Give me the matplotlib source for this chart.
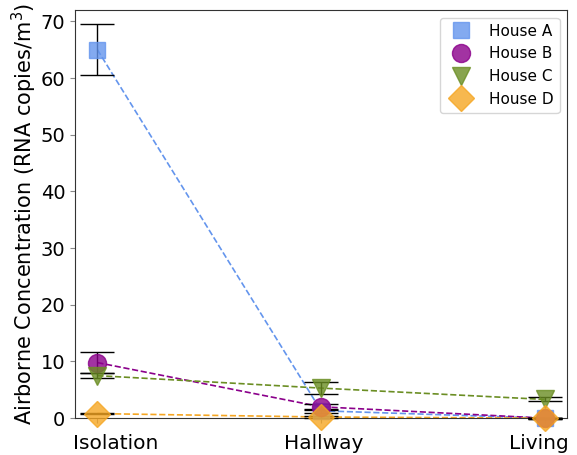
import matplotlib
matplotlib.use("Agg")
import matplotlib.pyplot as plt
import matplotlib.transforms as mtransforms
import numpy as np

locations = ["Isolation", "Hallway", "Living"]
houses = ["House A", "House B", "House C", "House D"]
vals_A = [65.0, 1.3, 0.0]
err_A = [4.5, 0.4, 0.1]
vals_B = [9.8, 2.0, 0.0]
err_B = [1.8, 0.5, 0.1]
vals_C = [7.5, 5.3, 3.3]
err_C = [0.5, 1.05, 0.35]
vals_D = [0.8, 0.2, 0.0]
err_D = [0.15, 0.15, 0.05]

colors = ["#6495ED", "#8B008B", "#6B8E23", "#F5A623"]
markers = ["s", "o", "v", "D"]
msizes = [12, 13, 13, 13]

fig, ax = plt.subplots(figsize=(5.77, 4.55), dpi=100)
fig.subplots_adjust(left=0.13, right=0.983, top=0.978, bottom=0.081)

x = np.arange(len(locations))
for vals, errs, c, m, ms, lab in zip([vals_A, vals_B, vals_C, vals_D],
                                      [err_A, err_B, err_C, err_D],
                                      colors, markers, msizes, houses):
    ax.plot(x, vals, linestyle="--", color=c, linewidth=1.2, zorder=2, clip_on=False)
    ax.errorbar(x, vals, yerr=errs, fmt="none", ecolor="black", elinewidth=1.0,
                capsize=12, capthick=1.0, zorder=3, clip_on=False)
    ax.plot(x, vals, linestyle="none", marker=m, markersize=ms, color=c, alpha=0.8,
            label=lab, zorder=4, clip_on=False)

for s in ax.spines.values():
    s.set_color("#333333")

ax.set_xlim(-0.1, 2.1)
ax.set_ylim(0, 72)
ax.set_xticks(x)
ax.set_xticklabels(locations, fontsize=14.5)
ax.set_yticks(np.arange(0, 71, 10))
ax.tick_params(axis="y", labelsize=14, color="#888888")
ax.tick_params(axis="x", color="#888888", pad=8)
ax.set_ylabel("Airborne Concentration (RNA copies/m$^3$)", fontsize=15, labelpad=1)
ax.legend(loc="upper right", fontsize=11)

# shift tick labels horizontally to match reference placement
offsets_px = [18, 3, -6]
for lbl, dx in zip(ax.get_xticklabels(), offsets_px):
    lbl.set_transform(lbl.get_transform() +
                      mtransforms.ScaledTranslation(dx / 100.0, 0, fig.dpi_scale_trans))

fig.savefig("out.png", dpi=100)
